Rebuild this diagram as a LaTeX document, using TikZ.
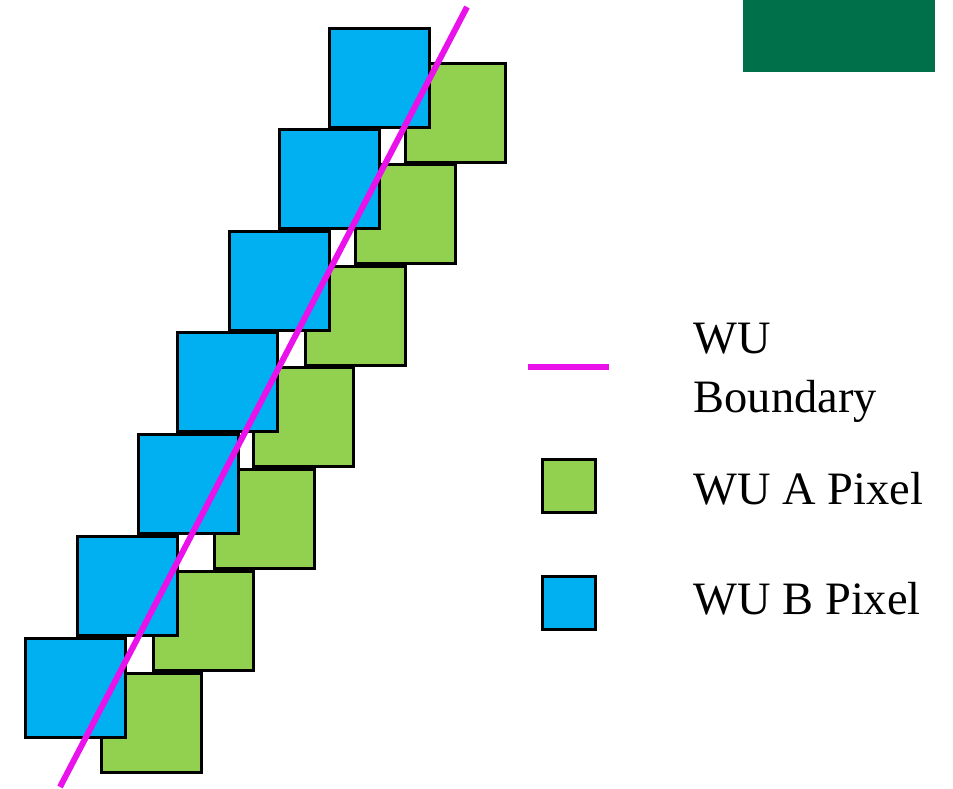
\documentclass[tikz,border=0pt]{standalone}
\usepackage{fontspec}
\setmainfont{Liberation Serif}
\usepackage{tikz}
\usetikzlibrary{positioning}

\definecolor{wuagreen}{RGB}{146,208,80}
\definecolor{wubblue}{RGB}{0,176,240}
\definecolor{wuline}{RGB}{234,18,234}
\definecolor{bannergreen}{RGB}{0,112,74}

\begin{document}
\begin{tikzpicture}
      [x=0.01cm, y=-0.01cm,
      pixel/.style={rectangle, draw, line width=0.03cm, minimum width=1cm,
        minimum height=0.99cm, inner sep=0pt, anchor=north west},
      wua/.style={pixel, fill=wuagreen},
      wub/.style={pixel, fill=wubblue},
      boundary/.style={draw=wuline, line width=0.06cm},
      legendtext/.style={anchor=base west, inner sep=0pt, align=left,
        font=\fontsize{13.2}{17}\selectfont}]

      \useasboundingbox (0,0) rectangle (953,789);

      \node [fill=bannergreen, anchor=north west, inner sep=0pt, outer sep=0pt,
        minimum width=1.92cm, minimum height=0.72cm] (banner) at (743,0) {};

      % pixels along the boundary, A behind B
      \foreach \x/\y [count=\i] in {328/27, 278/128, 228/230, 176/331, 137/433, 76/535, 24/637}
        \node [wua] (a\i) at (\x+76, \y+35) {};
      \foreach \x/\y [count=\i] in {328/27, 278/128, 228/230, 176/331, 137/433, 76/535, 24/637}
        \node [wub] (b\i) at (\x, \y) {};

      \coordinate (top) at (467,7);
      \coordinate (bottom) at (60,787);
      \draw [boundary] (bottom) -- (top);

      % legend
      \coordinate (keyl) at (528,367);
      \coordinate (keyr) at (609,367);
      \draw [boundary] (keyl) -- (keyr);
      \node [wua, minimum width=0.53cm, minimum height=0.53cm] (keya) at (541,458) {};
      \node [wub, minimum width=0.53cm, minimum height=0.53cm] (keyb) at (541,575) {};

      \node [legendtext] (tline) at (693,413) {WU\\Boundary};
      \node [legendtext] (ta) at (693,505) {WU A Pixel};
      \node [legendtext] (tb) at (693,615) {WU B Pixel};
    \end{tikzpicture}
\end{document}
